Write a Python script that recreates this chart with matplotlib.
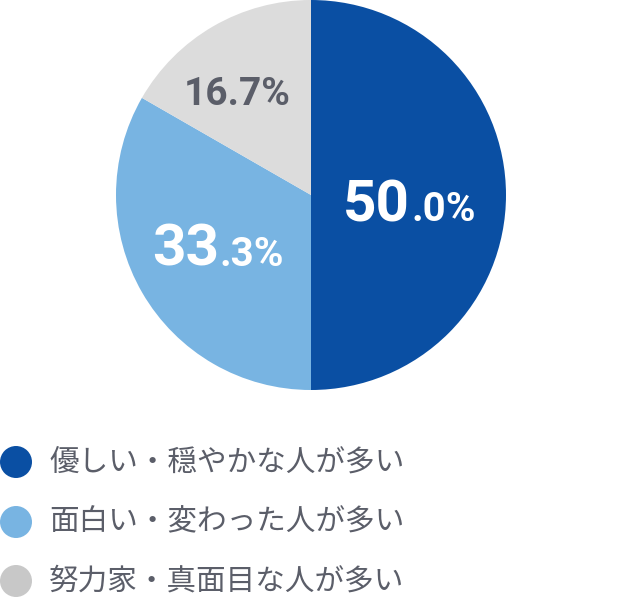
import matplotlib.pyplot as plt
from matplotlib.patches import Circle

# Data
labels = ["優しい・穏やかな人が多い", "面白い・変わった人が多い", "努力家・真面目な人が多い"]
values = [50.0, 33.3, 16.7]
big_parts = ["50", "33", "16.7%"]
small_parts = [".0%", ".3%", ""]

colors = ["#0a4fa3", "#78b4e2", "#dcdcdc"]
legend_colors = ["#0a4fa3", "#78b4e2", "#c8c8c8"]
text_colors = ["white", "white", "#5b5e69"]

W, H = 624, 606
fig = plt.figure(figsize=(W / 100, H / 100), dpi=100)
ax = fig.add_axes([0, 0, 1, 1])

# pie (pixel coords, y flipped)
ax.pie(values, colors=colors, startangle=90, counterclock=False,
       center=(311, H - 195), radius=195, frame=True,
       wedgeprops=dict(linewidth=0))
ax.set_xlim(0, W)
ax.set_ylim(0, H)
ax.set_aspect("equal")
ax.axis("off")

num_font = ["Roboto", "DejaVu Sans"]
# label positions: split x, baseline y (pixel)
label_pos = [(410, 221), (219, 266), (291, 105)]
for big, small, (sx, by), tc in zip(big_parts, small_parts, label_pos, text_colors):
    if small:
        ax.text(sx, H - by, big, fontsize=42, fontweight="bold", color=tc,
                family=num_font, ha="right", va="baseline")
        ax.text(sx + 1, H - by, small, fontsize=29, fontweight="bold", color=tc,
                family=num_font, ha="left", va="baseline")
    else:
        ax.text(sx, H - by, big, fontsize=28, fontweight="bold", color=tc,
                family=num_font, ha="right", va="baseline")

# legend
jp_font = ["Noto Sans CJK JP", "DejaVu Sans"]
legend_y = [462, 522, 581]
for lab, c, y in zip(labels, legend_colors, legend_y):
    ax.add_patch(Circle((16, H - y), 16, color=c, lw=0))
    ax.text(49, H - y, lab, fontsize=21.3, color="#5b5e69", family=jp_font,
            ha="left", va="center")

fig.savefig("out.png", dpi=100)
